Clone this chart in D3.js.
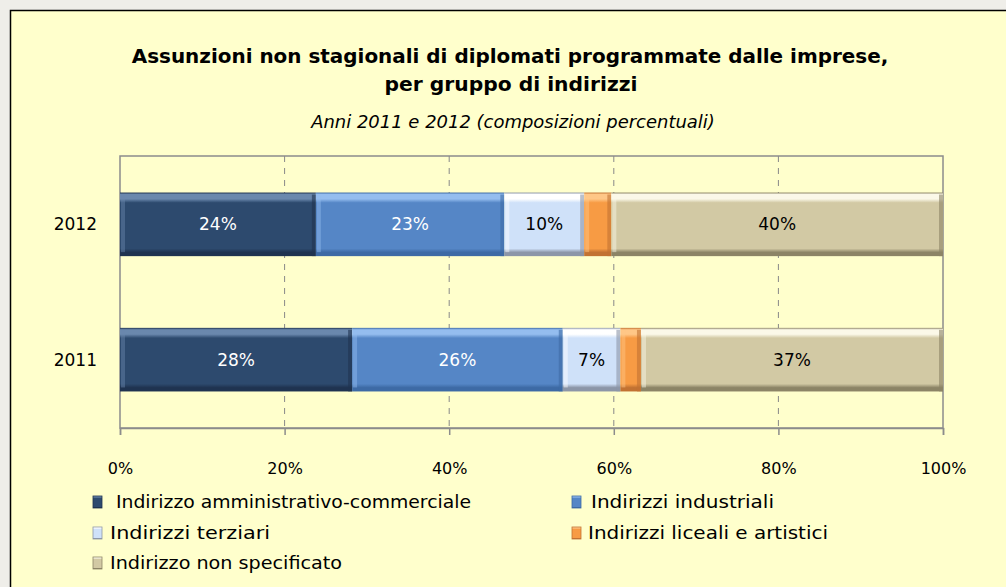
<!DOCTYPE html>
<html>
<head>
<meta charset="utf-8">
<script src="https://cdn.jsdelivr.net/npm/d3@7"></script>
<style>
  html, body { margin: 0; padding: 0; background: #efeee9; }
  svg { display: block; }
</style>
</head>
<body>
<svg id="chart" width="1006" height="587"></svg>
<script>
// years shown top to bottom
var years = ["2012", "2011"];
var groups = [
    "Indirizzo amministrativo-commerciale",
    "Indirizzi industriali",
    "Indirizzi terziari",
    "Indirizzi liceali e artistici",
    "Indirizzo non specificato"
];
// percent share for each group, same order as groups
var values2012 = [23.8, 22.9, 9.7, 3.3, 40.3];
var values2011 = [28.2, 25.6, 7.0, 2.5, 36.7];
var labels2012 = ["24%", "23%", "10%", "", "40%"];
var labels2011 = ["28%", "26%", "7%", "", "37%"];
var xTicks = [0, 20, 40, 60, 80, 100];

var colors = [
    {base: "#2d4a6e", light: "#6a88ad", dark: "#1f3350", text: "#ffffff"},
    {base: "#5586c6", light: "#94bdef", dark: "#3d6aa5", text: "#ffffff"},
    {base: "#cfe1f9", light: "#ffffff", dark: "#8c96a8", text: "#000000"},
    {base: "#f79b44", light: "#ffc787", dark: "#c27232", text: "#000000"},
    {base: "#d2c9a4", light: "#fbf8e8", dark: "#8c8466", text: "#000000"}
];

var comic = "'Comic Sans MS', 'DejaVu Sans', sans-serif";
var plain = "'DejaVu Sans', Verdana, sans-serif";

var svg = d3.select("#chart");

// outer frame
svg.append("rect")
    .attr("x", 10.5).attr("y", 10.5)
    .attr("width", 1010).attr("height", 600)
    .attr("fill", "#ffffcc")
    .attr("stroke", "#000").attr("stroke-width", 1.5);

function fitText(sel, width) {
    var w = sel.node().getComputedTextLength();
    var fs = parseFloat(sel.attr("font-size"));
    sel.attr("font-size", (fs * width / w).toFixed(2));
}

var t1 = svg.append("text")
    .attr("x", 510).attr("y", 63)
    .attr("text-anchor", "middle")
    .attr("font-family", comic).attr("font-weight", "bold")
    .attr("font-size", 18)
    .text("Assunzioni non stagionali di diplomati programmate dalle imprese,");
fitText(t1, 757);

var t2 = svg.append("text")
    .attr("x", 511).attr("y", 91)
    .attr("text-anchor", "middle")
    .attr("font-family", comic).attr("font-weight", "bold")
    .attr("font-size", 18)
    .text("per gruppo di indirizzi");
fitText(t2, 253);

var t3 = svg.append("text")
    .attr("x", 513).attr("y", 128)
    .attr("text-anchor", "middle")
    .attr("font-family", comic).attr("font-style", "italic")
    .attr("font-size", 16)
    .text("Anni 2011 e 2012 (composizioni percentuali)");
fitText(t3, 404);

// plot area
var plotLeft = 120, plotRight = 943, plotTop = 156, plotBottom = 428;

var x = d3.scaleLinear().domain([0, 100]).range([plotLeft, plotRight]);
var y = d3.scaleBand().domain(years).range([plotTop, plotBottom])
    .paddingInner(0.53).paddingOuter(0.27);

var rows = [
    {year: "2012", values: values2012, labels: labels2012},
    {year: "2011", values: values2011, labels: labels2011}
];

// gradients for the bevelled bars
var defs = svg.append("defs");
colors.forEach(function (c, i) {
    var g = defs.append("linearGradient")
        .attr("id", "grad" + i)
        .attr("x1", 0).attr("y1", 0).attr("x2", 0).attr("y2", 1);
    g.append("stop").attr("offset", "0%").attr("stop-color", c.dark);
    g.append("stop").attr("offset", "3%").attr("stop-color", c.light);
    g.append("stop").attr("offset", "10%").attr("stop-color", c.light);
    g.append("stop").attr("offset", "16%").attr("stop-color", c.base);
    g.append("stop").attr("offset", "88%").attr("stop-color", c.base);
    g.append("stop").attr("offset", "94%").attr("stop-color", c.dark);
    g.append("stop").attr("offset", "100%").attr("stop-color", c.dark);
});

// dashed grid
svg.append("g")
    .selectAll("line")
    .data(xTicks.slice(1, -1))
    .enter().append("line")
    .attr("x1", d => x(d)).attr("x2", d => x(d))
    .attr("y1", plotTop).attr("y2", plotBottom)
    .attr("stroke", "#888").attr("stroke-width", 1)
    .attr("stroke-dasharray", "6,6");

svg.append("rect")
    .attr("x", plotLeft).attr("y", plotTop)
    .attr("width", plotRight - plotLeft).attr("height", plotBottom - plotTop)
    .attr("fill", "none").attr("stroke", "#8c8c8c").attr("stroke-width", 1.5);

// bottom axis
var xAxis = svg.append("g")
    .attr("transform", "translate(0," + plotBottom + ")")
    .call(d3.axisBottom(x).tickValues(xTicks).tickSize(7).tickPadding(28)
        .tickFormat(d => d + "%"));
xAxis.select(".domain").attr("stroke", "#8c8c8c").attr("stroke-width", 1.5);
xAxis.selectAll(".tick line").attr("stroke", "#8c8c8c").attr("stroke-width", 1.5);
xAxis.selectAll("text")
    .attr("font-family", comic).attr("font-size", 16).attr("fill", "#000");

// year labels
svg.append("g")
    .selectAll("text")
    .data(years)
    .enter().append("text")
    .attr("x", 97)
    .attr("y", d => y(d) + y.bandwidth() / 2 + 6)
    .attr("text-anchor", "end")
    .attr("font-family", plain).attr("font-size", 17)
    .text(d => d);

// stacked bars
rows.forEach(function (row) {
    var segs = [];
    var acc = 0;
    row.values.forEach(function (v, i) {
        segs.push({i: i, x0: acc, x1: acc + v, label: row.labels[i]});
        acc += v;
    });
    var g = svg.append("g").attr("class", "bar-" + row.year);
    var y0 = y(row.year), h = y.bandwidth();

    var seg = g.selectAll("g")
        .data(segs)
        .enter().append("g");

    seg.append("rect")
        .attr("x", d => x(d.x0))
        .attr("y", y0)
        .attr("width", d => x(d.x1) - x(d.x0))
        .attr("height", h)
        .attr("fill", d => "url(#grad" + d.i + ")");
    // light left edge
    seg.append("rect")
        .attr("x", d => x(d.x0) + 1)
        .attr("y", y0 + 3)
        .attr("width", 4)
        .attr("height", h - 7)
        .attr("fill", d => colors[d.i].light)
        .attr("opacity", 0.45);
    // dark right edge
    seg.append("rect")
        .attr("x", d => x(d.x1) - 4)
        .attr("y", y0 + 2)
        .attr("width", 4)
        .attr("height", h - 2)
        .attr("fill", d => colors[d.i].dark)
        .attr("opacity", 0.6);

    seg.filter(d => d.label !== "")
        .append("text")
        .attr("x", d => (x(d.x0) + x(d.x1)) / 2)
        .attr("y", y0 + h / 2 + 6)
        .attr("text-anchor", "middle")
        .attr("font-family", plain).attr("font-size", 17)
        .attr("fill", d => colors[d.i].text)
        .text(d => d.label);
});

// legend, two columns
var legendPos = [
    {mx: 93, tx: 116, y: 502, w: 355},
    {mx: 572, tx: 591, y: 502, w: 183},
    {mx: 93, tx: 110, y: 533, w: 160},
    {mx: 572, tx: 588, y: 533, w: 240},
    {mx: 93, tx: 110, y: 563, w: 232}
];

var leg = svg.append("g")
    .selectAll("g")
    .data(groups)
    .enter().append("g");

leg.append("rect")
    .attr("x", (d, i) => legendPos[i].mx)
    .attr("y", (d, i) => legendPos[i].y - 6)
    .attr("width", 9).attr("height", 12)
    .attr("fill", (d, i) => "url(#grad" + i + ")")
    .attr("stroke", (d, i) => colors[i].dark).attr("stroke-width", 0.8);

leg.append("text")
    .attr("x", (d, i) => legendPos[i].tx)
    .attr("y", (d, i) => legendPos[i].y + 6)
    .attr("font-family", comic).attr("font-size", 16)
    .text(d => d)
    .each(function (d, i) {
        // widen to the reference width without changing the height
        var w = this.getComputedTextLength();
        d3.select(this).attr("font-size", Math.min(18, 16 * legendPos[i].w / w).toFixed(2));
        var w2 = this.getComputedTextLength();
        if (w2 < legendPos[i].w) {
            d3.select(this).attr("textLength", legendPos[i].w)
                .attr("lengthAdjust", "spacingAndGlyphs");
        }
    });
</script>
</body>
</html>
